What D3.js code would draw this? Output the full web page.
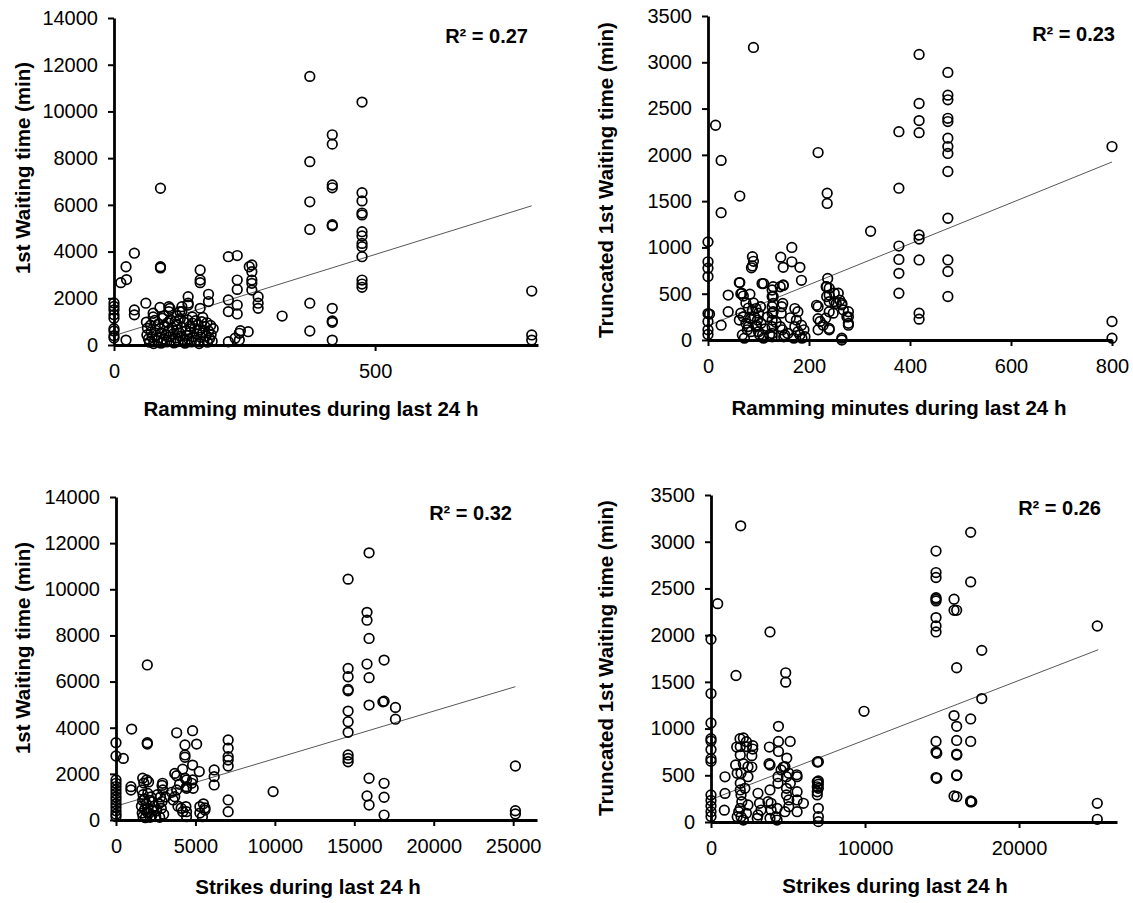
<!DOCTYPE html>
<html><head><meta charset="utf-8">
<script src="https://cdn.jsdelivr.net/npm/d3@7"></script>
<style>
body{margin:0;background:#fff}
text{font-family:"Liberation Sans",Arial,Helvetica,sans-serif;fill:#000}
</style></head>
<body><svg id="c" width="1133" height="903"></svg>
<script>
// ---------- DATA ----------
// Panel A: Ramming minutes vs 1st waiting time
const ramA = [375,475,418,418,375,418,418,475,475,475,475,375,375,418,418,475,475,475,475,475,475,475,475,375,375,418,418,418,418,322,800,800,800,
0,0,0,0,0,0,0,0,0,13,24,23,39,39,39,23,61,89,89,89,75,105,105,130,130,142,165,165,165,165,181,181,219,236,236,236,219,219,236,236,259,264,264,264,264,264,276,276,276,219,232,240,242,240,257,88,107,126,142,142,
62,64,63,66,68,70,71,73,76,78,79,81,83,85,86,88,90,91,93,95,97,99,101,103,104,106,108,109,111,113,115,117,118,120,121,123,125,127,128,130,132,134,136,138,139,141,143,145,146,148,150,152,154,156,157,159,161,163,165,166,168,170,172,174,176,178,179,181,183,185,186,188,190,75,95,120,150,170];
const waitA = [11500,10400,9000,8600,7850,6850,6730,6520,6170,5650,5570,6130,4950,5100,5150,4850,4670,4350,4210,3780,2780,2610,2470,1790,600,1570,1030,970,210,1240,2310,430,210,
1800,1650,1500,1300,1150,700,600,400,300,2670,2800,3350,3930,1500,1290,210,1790,6710,3350,3300,1360,1640,1430,1640,1430,2070,3210,2780,2670,1570,2170,1860,3780,3830,2780,2380,1930,1430,1710,1330,3350,3430,3140,2780,2640,2350,2070,1790,1570,140,290,500,610,210,570,1610,1570,1430,1710,1790,
980,720,430,260,120,850,560,330,60,1050,640,420,190,900,300,700,80,520,1150,260,820,430,130,960,610,350,1080,200,740,470,90,1010,300,650,880,150,520,1130,380,760,240,980,80,600,410,1070,260,800,540,130,940,350,700,1040,200,480,870,60,650,330,1000,520,180,790,380,950,120,600,280,840,450,160,700,1200,1250,1250,1200,1180];

// Panel B: Ramming minutes vs truncated 1st waiting time
const ramB = [90,15,26,26,63,218,236,236,0,0,0,0,0,3,0,26,40,40,63,67,83,88,90,88,86,110,129,129,129,129,144,149,166,166,182,185,149,146,215,218,228,234,237,240,240,240,240,240,250,250,265,278,278,278,265,218,222,218,235,235,233,240,248,254,258,261,265,268,275,278,265,
418,475,475,475,418,475,475,418,418,378,475,475,475,475,378,322,475,378,378,378,378,418,418,418,475,475,475,418,418,800,800,800,
62,65,70,75,80,65,70,62,75,80,85,68,72,90,95,100,92,98,105,95,100,108,110,104,107,127,127,127,127,127,127,127,127,143,152,147,150,143,149,148,145,172,178,175,185,172,178,182,190,192,186,0,0,
78,84,96,102,113,118,135,158,163,170,88,122];
const truncB = [3160,2320,1940,1375,1555,2025,1585,1475,1060,845,775,685,285,280,110,160,485,305,620,505,495,900,850,800,780,610,575,470,395,305,895,785,1000,845,785,645,590,360,375,230,160,575,665,560,485,415,305,110,505,415,380,305,250,160,0,360,200,110,575,470,235,125,290,395,505,430,395,325,250,180,20,
3085,2890,2645,2595,2555,2395,2360,2370,2240,2250,2180,2090,2015,1820,1640,1175,1315,1015,870,720,505,1135,1090,865,865,740,470,290,225,2090,200,20,
620,500,475,400,345,290,250,215,180,145,90,55,20,400,340,290,250,215,180,145,90,55,20,360,610,540,470,360,290,215,145,70,35,145,55,110,35,575,595,395,290,340,305,215,160,145,90,55,110,35,20,200,60,
110,230,160,60,120,250,190,70,240,20,320,60];

// Panel C: Strikes vs 1st waiting time
const strC = [15930,14610,15800,15800,15930,15800,16875,14610,14610,14610,14610,15930,14610,14610,14610,15930,16875,16800,17590,17590,14610,14610,14610,15930,16875,15800,15930,16875,16875,25140,25140,25140,
1970,985,0,0,460,1970,1970,3820,4820,4340,4340,4340,5075,4820,4195,5240,7060,7060,7060,7060,7060,6180,6180,6180,3820,4340,4440,4820,4860,9890,
0,0,0,0,0,0,0,0,0,0,0,0,940,940,1680,1930,2930,
1620,1700,1800,1900,2000,2100,1700,2200,2300,2400,2560,2500,2900,2950,2800,2900,2850,3000,2000,2100,1800,2250,2600,1750,2050,1600,1650,2700,
3700,3820,3700,3600,4100,4200,3900,3500,4000,4440,4440,4760,4400,4440,4440,5280,5600,5600,5440,5280,5500,7060,7060,3100,
1850,2150,1950,2350,1680,2750];
const waitC = [11580,10440,9000,8660,7870,6760,6930,6570,6210,5660,5600,6170,4720,4260,3800,4980,5150,5120,4880,4370,2820,2670,2525,1810,1590,1040,650,985,215,2340,400,260,
6720,3940,3350,2775,2670,3350,3290,3780,3870,3250,2820,2720,3290,2380,2200,2100,3470,3110,2745,2600,2340,2170,1880,1520,1920,1810,1445,1735,1375,1230,
1735,1590,1450,1300,1150,1000,870,700,550,400,250,145,1445,1300,1810,1735,1590,
1300,1100,900,700,500,300,150,1000,800,600,400,150,1500,1300,1000,800,500,250,1150,850,450,200,1100,1600,1650,600,300,700,
2020,1300,1010,870,510,360,600,1200,1550,1735,1375,1590,580,360,145,580,520,430,145,300,700,870,360,1000,
100,120,350,420,850,120];

// Panel D: Strikes vs truncated 1st waiting time
const strD = [16860,14610,14610,14610,16860,14610,14610,14610,15780,15780,15950,14610,14610,14610,25080,17580,15950,9935,17580,15780,15950,16860,14610,14610,15950,16860,15950,14610,15950,15780,16860,16860,25080,25080,
1928,434,0,3830,1623,4850,4850,0,0,0,0,0,0,0,1883,1668,2100,2650,2710,2710,2650,3790,3770,4380,4380,4380,4700,5140,5570,4920,6900,6900,6900,6900,6900,909,909,866,0,0,0,0,0,
1600,1700,1950,1900,1900,1950,2000,1900,1800,1700,1950,2100,2300,2400,2200,2400,2400,1900,1900,2300,2300,2100,
3050,3150,3050,3250,3000,3830,3830,3700,3900,3900,4290,4200,4290,3830,4350,4350,4550,4800,4900,5050,5150,4900,4900,5050,5050,4800,5590,5590,5590,5590,6000,
6970,6970,6970,6970,6970,6970,6970,14660,14660,15960,15960,15960,16930];
const truncD = [3100,2900,2670,2617,2570,2400,2384,2366,2384,2266,2266,2188,2098,2034,2098,1837,1651,1185,1321,1139,1024,1103,862,748,873,862,727,476,497,279,225,215,200,29,
3170,2337,1955,2034,1568,1597,1497,1375,1060,892,867,775,678,650,892,802,624,710,817,781,588,802,624,1024,862,755,588,862,505,684,642,430,377,323,290,484,306,127,290,230,170,110,60,
610,521,521,414,343,289,218,146,110,57,57,21,93,182,360,485,592,717,807,807,860,900,
307,200,75,128,39,610,343,218,200,128,146,57,21,39,485,414,557,592,485,521,414,360,289,236,164,110,485,110,236,325,200,
645,440,405,360,146,57,4,736,468,717,503,271,218];

// Linear trend lines: [intercept, slope, xEnd]
const trendA = [400, 6.95, 800];
const trendB = [155, 2.21, 800];
const trendC = [600, 0.206, 25140];
const trendD = [240, 0.0638, 25140];

const r2Labels = ["R\u00b2 = 0.27", "R\u00b2 = 0.23", "R\u00b2 = 0.32", "R\u00b2 = 0.26"];
const xTitles = ["Ramming minutes during last 24 h", "Ramming minutes during last 24 h", "Strikes during last 24 h", "Strikes during last 24 h"];
const yTitles = ["1st Waiting time (min)", "Truncated 1st Waiting time (min)", "1st Waiting time (min)", "Truncated 1st Waiting time (min)"];
const xTicksA = [0, 500];
const xTicksB = [0, 200, 400, 600, 800];
const xTicksC = [0, 5000, 10000, 15000, 20000, 25000];
const xTicksD = [0, 10000, 20000];
const yTicksWait = [0, 2000, 4000, 6000, 8000, 10000, 12000, 14000];
const yTicksTrunc = [0, 500, 1000, 1500, 2000, 2500, 3000, 3500];

// ---------- LAYOUT ----------
const panels = [
  {xs: ramA, ys: waitA, trend: trendA, xMax: 812, yMax: 14000, xt: xTicksA, yt: yTicksWait,
   L: 114, R: 538, T: 18, B: 345, xtx: 311, xty: 416, ytx: 22, yty: 168, r2x: 528, r2y: 43},
  {xs: ramB, ys: truncB, trend: trendB, xMax: 800, yMax: 3500, xt: xTicksB, yt: yTicksTrunc,
   L: 708, R: 1112, T: 16, B: 340, xtx: 899, xty: 415, ytx: 605, yty: 180, r2x: 1115, r2y: 41},
  {xs: strC, ys: waitC, trend: trendC, xMax: 26500, yMax: 14000, xt: xTicksC, yt: yTicksWait,
   L: 116, R: 537, T: 497, B: 820, xtx: 308, xty: 894, ytx: 22, yty: 648, r2x: 512, r2y: 520},
  {xs: strD, ys: truncD, trend: trendD, xMax: 26360, yMax: 3500, xt: xTicksD, yt: yTicksTrunc,
   L: 711, R: 1117, T: 495, B: 822, xtx: 895, xty: 893, ytx: 605, yty: 658, r2x: 1101, r2y: 515}
];

const svg = d3.select("#c");

panels.forEach((p, i) => {
  const x = d3.scaleLinear().domain([0, p.xMax]).range([p.L, p.R]);
  const y = d3.scaleLinear().domain([0, p.yMax]).range([p.B, p.T]);
  const g = svg.append("g");

  // trend line
  const t = p.trend;
  g.append("line")
    .attr("x1", x(0)).attr("y1", y(t[0]))
    .attr("x2", x(t[2])).attr("y2", y(t[0] + t[1] * t[2]))
    .attr("stroke", "#444").attr("stroke-width", 0.9);

  // points
  g.append("g").selectAll("circle").data(p.xs.map((v, k) => [v, p.ys[k]]))
    .join("circle")
    .attr("cx", d => x(d[0])).attr("cy", d => y(d[1]))
    .attr("r", 4.8).attr("fill", "none").attr("stroke", "#000").attr("stroke-width", 1.7);

  // axes
  const ax = g.append("g").attr("transform", `translate(0,${p.B})`)
    .call(d3.axisBottom(x).tickValues(p.xt).tickFormat(d3.format("d")).tickSize(6).tickSizeOuter(0).tickPadding(13));
  const ay = g.append("g").attr("transform", `translate(${p.L},0)`)
    .call(d3.axisLeft(y).tickValues(p.yt).tickFormat(d3.format("d")).tickSize(6).tickSizeOuter(0).tickPadding(10));
  [ax, ay].forEach(a => {
    a.select(".domain").attr("stroke", "#000").attr("stroke-width", 2.8);
    a.selectAll(".tick line").attr("stroke", "#000").attr("stroke-width", 2);
    a.selectAll(".tick text").attr("font-size", 20).attr("font-family", '"Liberation Sans", Arial, sans-serif').attr("fill", "#000");
  });

  // titles
  g.append("text").attr("x", p.xtx).attr("y", p.xty).attr("text-anchor", "middle")
    .attr("font-size", 20.5).attr("font-weight", "bold").text(xTitles[i]);
  g.append("text").attr("transform", `translate(${p.ytx},${p.yty}) rotate(-90)`)
    .attr("text-anchor", "middle").attr("dominant-baseline", "central")
    .attr("font-size", 20.5).attr("font-weight", "bold").text(yTitles[i]);
  g.append("text").attr("x", p.r2x).attr("y", p.r2y).attr("text-anchor", "end")
    .attr("font-size", 20).attr("font-weight", "bold").text(r2Labels[i]);
});
</script></body></html>
